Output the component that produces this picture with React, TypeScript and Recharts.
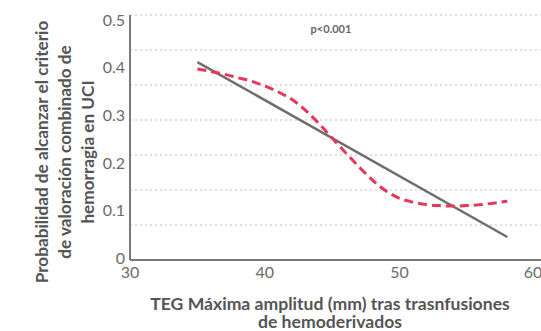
import React from "react";
import { LineChart, Line, XAxis, YAxis, CartesianGrid } from "recharts";

const fitX = [35, 58];
const fitY = [0.404, 0.047];

const smoothX = [35, 36, 37, 38, 39, 40, 41, 42, 43, 44, 45, 46, 47, 48, 49, 50, 51, 52, 53, 54, 55, 56, 57, 58];
const smoothY = [0.39, 0.385, 0.379, 0.372, 0.365, 0.355, 0.343, 0.328, 0.306, 0.279, 0.249, 0.219, 0.19, 0.163, 0.141, 0.126, 0.118, 0.113, 0.111, 0.11, 0.111, 0.113, 0.116, 0.12];

const xTicks = [30, 40, 50, 60];
const yTicks = [0, 0.1, 0.2, 0.3, 0.4, 0.5];
const yTickLabels = ["0", "0.1", "0.2", "0.3", "0.4", "0.5"];
const gridDivisions = 7;

const yTitle = ["Probabilidad de alcanzar el criterio", "de valoración combinado de", "hemorragia en UCI"];
const xTitle = ["TEG Máxima amplitud (mm) tras trasnfusiones", "de hemoderivados"];
const pText = "p<0.001";

const fitData = fitX.map((x, i) => ({ x, y: fitY[i] }));
const smoothData = smoothX.map((x, i) => ({ x, y: smoothY[i] }));

const FONT = "Lato, 'Open Sans', sans-serif";
const PLOT_BOTTOM = 260;

const YTick = (props: any) => {
  const { x, y, payload } = props;
  const shifted = 258 - (PLOT_BOTTOM - y) * (476 / 490);
  const idx = yTicks.indexOf(payload.value);
  return (
    <text x={x} y={shifted} dy="0.36em" textAnchor="end" fontFamily={FONT} fontSize={16} fill="#6b6b6b">
      {idx >= 0 ? yTickLabels[idx] : payload.value}
    </text>
  );
};

const XTick = (props: any) => {
  const { x, y, payload } = props;
  return (
    <text x={x} y={y} dy="0.75em" textAnchor="middle" fontFamily={FONT} fontSize={16} fill="#6b6b6b">
      {payload.value}
    </text>
  );
};

const YTitle = () => {
  const cy = 152;
  const xs = [42, 65, 88];
  return (
    <g>
      {yTitle.map((t, i) => (
        <text
          key={i}
          x={xs[i]}
          y={cy}
          transform={`rotate(-90 ${xs[i]} ${cy})`}
          textAnchor="middle"
          dy="0.36em"
          fontFamily={FONT}
          fontWeight={700}
          fontSize={17.2}
          fill="#555"
        >
          {t}
        </text>
      ))}
    </g>
  );
};

const XTitle = () => {
  return (
    <g>
      {xTitle.map((t, i) => (
        <text
          key={i}
          x={330}
          y={304 + i * 18}
          textAnchor="middle"
          dy="0.36em"
          fontFamily={FONT}
          fontWeight={700}
          fontSize={17.6}
          fill="#555"
        >
          {t}
        </text>
      ))}
    </g>
  );
};

const gridGen = (args: any) => {
  const { offset } = args;
  const pts: number[] = [];
  for (let k = 0; k < gridDivisions; k++) {
    pts.push(offset.top + (offset.height * k) / gridDivisions);
  }
  return pts;
};

export default function App() {
  return (
    <div style={{ position: "absolute", left: 0, top: 0, width: 541, height: 331, background: "#fff" }}>
      <LineChart width={541} height={331} margin={{ top: 15, right: 0, bottom: 41, left: 100 }}>
        <CartesianGrid
          vertical={false}
          horizontal={true}
          horizontalCoordinatesGenerator={gridGen}
          stroke="#bdbdbd"
          strokeDasharray="2 3"
          strokeWidth={1}
        />
        <XAxis
          dataKey="x"
          type="number"
          domain={[30, 60.5]}
          ticks={xTicks}
          allowDataOverflow
          tick={<XTick />}
          tickLine={false}
          tickSize={4}
          axisLine={{ stroke: "#7a7a7a", strokeWidth: 2 }}
          height={30}
          label={<XTitle />}
        />
        <YAxis
          type="number"
          domain={[0, 0.5]}
          ticks={yTicks}
          tick={<YTick />}
          tickLine={false}
          tickSize={3}
          axisLine={{ stroke: "#7a7a7a", strokeWidth: 2 }}
          width={30}
          label={<YTitle />}
        />
        <Line
          data={fitData}
          dataKey="y"
          type="linear"
          stroke="#6e6e6e"
          strokeWidth={2.5}
          dot={false}
          activeDot={false}
          isAnimationActive={false}
        />
        <Line
          data={smoothData}
          dataKey="y"
          type="monotone"
          stroke="#e8365a"
          strokeWidth={3}
          strokeDasharray="9 5"
          dot={false}
          activeDot={false}
          isAnimationActive={false}
        />
      </LineChart>
      <div
        style={{
          position: "absolute",
          left: 331,
          top: 28,
          transform: "translate(-50%, -50%)",
          fontFamily: FONT,
          fontWeight: 700,
          fontSize: 11,
          color: "#666",
          whiteSpace: "nowrap",
        }}
      >
        {pText}
      </div>
    </div>
  );
}
